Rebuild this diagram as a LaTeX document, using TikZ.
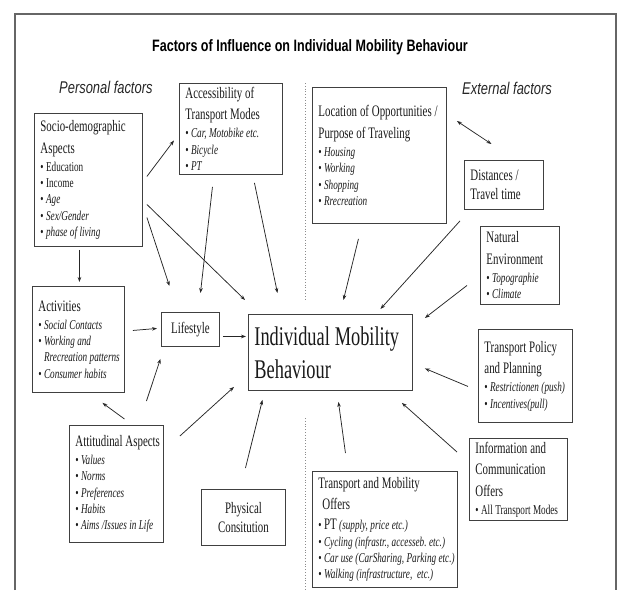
\documentclass[tikz,border=0pt]{standalone}
\usepackage{fontspec}
\setmainfont{Liberation Serif}[FakeStretch=0.68]
\newfontfamily\sansnarrow{Liberation Sans}[FakeStretch=0.76]
\usetikzlibrary{arrows.meta}
\frenchspacing
\newcommand{\hd}{\fontsize{16}{19}\selectfont\spaceskip=0.18em plus 0.06em minus 0.03em\relax}
\newcommand{\itm}{\fontsize{13.5}{16.4}\selectfont\spaceskip=0.18em plus 0.06em minus 0.03em\relax}
\newcommand{\bigf}{\fontsize{27}{33}\selectfont\spaceskip=0.18em plus 0.06em minus 0.03em\relax}
\newcommand{\bl}{\textbullet\ }

\begin{document}
\begin{tikzpicture}[x=1pt, y=-1pt,
  box/.style={draw=black!75, line width=0.9pt, rectangle, anchor=north west, font=\itm,
    inner xsep=6pt, inner ysep=2pt, align=left, text=black!90},
  arr/.style={-{Stealth[length=5pt,width=3.6pt]}, line width=0.75pt, black!85},
  arrboth/.style={{Stealth[length=5pt,width=3.6pt]}-{Stealth[length=5pt,width=3.6pt]}, line width=0.75pt, black!85},
  head/.style={font=\sansnarrow\itshape\fontsize{17}{20}\selectfont, anchor=base west, inner sep=0pt, text=black!85}]
  \useasboundingbox (0,0) rectangle (619,590);
  % Frame and headings
  \draw[black!60, line width=1.2pt] (15,590) -- (15,14) -- (616,14) -- (616,590);
  \node[font=\sansnarrow\bfseries\fontsize{16.5}{20}\selectfont, anchor=base, inner sep=0pt] (title) at (310,51.5) {Factors of Influence on Individual Mobility Behaviour};
  \node[head] (personal) at (59,93) {Personal factors};
  \node[head] (external) at (462,94) {External factors};
  \draw[dotted, black!45, line width=0.8pt] (305,83) -- (305,300) (305,418) -- (305,590);

  % Nodes
  \node[box, minimum width=108, minimum height=133, text width=96] (socio) at (34,113)
    {\hd Socio-demographic\\[2.6pt] Aspects\\[1.6pt] \itm\bl Education\\ \bl Income\\ \bl\textit{Age}\\ \bl\textit{Sex/Gender}\\ \bl\textit{phase of living}};
  \node[box, minimum width=103, minimum height=91, text width=91] (access) at (179,83)
    {\hd Accessibility of\\[2.6pt] Transport Modes\\[1.6pt] \itm\itshape\bl Car, Motobike etc.\\ \bl Bicycle\\ \bl PT};
  \node[box, minimum width=134, minimum height=136, text width=122] (location) at (312,87)
    {\hd \mbox{Location of Opportunities /}\\[2.6pt] Purpose of Traveling\\[1.6pt] \itm\itshape\bl Housing\\ \bl Working\\ \bl Shopping\\ \bl Rrecreation};
  \node[box, font=\hd, minimum width=79, minimum height=49, text width=67] (dist) at (464,160)
    {\hd Distances /\\ Travel time};
  \node[box, minimum width=79, minimum height=78, text width=67] (natural) at (480,226)
    {\hd Natural\\[2.6pt] Environment\\[1.6pt] \itm\itshape\bl Topographie\\ \bl Climate};
  \node[box, minimum width=92, minimum height=106, text width=80] (activ) at (32,286)
    {\hd Activities\\[1.6pt] \itm\itshape\bl Social Contacts\\ \bl Working and\\ \mbox{\phantom{\bl}Rrecreation patterns}\\ \bl Consumer habits};
  \node[box, font=\hd, minimum width=58, minimum height=34, text width=46, align=center] (life) at (161,312)
    {\hd Lifestyle};
  \node[box, font=\bigf, minimum width=164, minimum height=76, text width=152] (central) at (248,314)
    {\bigf\mbox{Individual Mobility}\\ Behaviour};
  \node[box, minimum width=94, minimum height=93, text width=82] (policy) at (478,329)
    {\hd Transport Policy\\[2.6pt] and Planning\\[1.6pt] \itm\itshape\mbox{\bl Restrictionen (push)}\\ \bl Incentives(pull)};
  \node[box, minimum width=98, minimum height=82, text width=86] (info) at (469,438)
    {\hd Information and\\[2.6pt] Communication\\[2.6pt] Offers\\[1.6pt] \itm\mbox{\bl All Transport Modes}};
  \node[box, minimum width=94, minimum height=117, text width=82] (attit) at (69,425)
    {\hd \mbox{Attitudinal Aspects}\\[1.6pt] \itm\itshape\bl Values\\ \bl Norms\\ \bl Preferences\\ \bl Habits\\ \mbox{\bl Aims /Issues in Life}};
  \node[box, font=\hd, minimum width=84, minimum height=56, text width=72, align=center] (phys) at (201,489)
    {\hd Physical\\ Consitution};
  \node[box, minimum width=145, minimum height=116, text width=133] (offers) at (312,471)
    {\hd Transport and Mobility\\[2.6pt] \hspace*{4pt}Offers\\[3.4pt] \itm\bl{\hd PT} \textit{(supply, price etc.)}\\ \itshape\mbox{\bl Cycling (infrastr., accesseb. etc.)}\\ \mbox{\bl Car use (CarSharing, Parking etc.)}\\ \mbox{\bl Walking (infrastructure,\ \ etc.)}};

  % Edges
  \draw[arr] ([xshift=4pt,yshift=3.5pt]socio.east) -- ([xshift=-5pt,yshift=-11.5pt]access.west);
  \draw[arr] ([xshift=-9pt,yshift=-3pt]socio.south) -- ([xshift=1pt,yshift=4pt]activ.north);
  \draw[arr] ([xshift=4pt,yshift=-37.5pt]socio.east) -- ([xshift=-21pt,yshift=26pt]life.north);
  \draw[arr] ([xshift=4pt,yshift=-24.5pt]socio.east) -- ([xshift=-3pt,yshift=14pt]central.north west);
  \draw[arr] ([xshift=-18.5pt,yshift=-12pt]access.south) -- ([xshift=10pt,yshift=19pt]life.north);
  \draw[arr] ([xshift=23.5pt,yshift=-8pt]access.south) -- ([xshift=-53pt,yshift=21pt]central.north);
  \draw[arr] ([xshift=8pt,yshift=9pt]activ.east) -- ([xshift=-4pt,yshift=1pt]life.west);
  \draw[arr] ([xshift=3pt,yshift=-7pt]life.east) -- ([xshift=-2pt,yshift=16pt]central.west);
  \draw[arr] ([xshift=8pt,yshift=6pt]attit.north) -- ([xshift=24pt,yshift=-10pt]activ.south);
  \draw[arr] ([xshift=30pt,yshift=24pt]attit.north) -- ([xshift=-30pt,yshift=-12pt]life.south);
  \draw[arr] ([xshift=16pt,yshift=-11pt]attit.north east) -- ([xshift=-14pt,yshift=4pt]central.south west);
  \draw[arr] ([xshift=2pt,yshift=21pt]phys.north) -- ([xshift=-68pt,yshift=-9pt]central.south);
  \draw[arr] ([xshift=-21pt,yshift=-15pt]location.south) -- ([xshift=13pt,yshift=14pt]central.north);
  \draw[arr] ([xshift=-4pt,yshift=-11pt]dist.south west) -- ([xshift=50pt,yshift=5pt]central.north);
  \draw[arr] ([xshift=-13pt,yshift=-20pt]natural.west) -- ([xshift=12pt,yshift=-4pt]central.north east);
  \draw[arrboth] ([xshift=10pt,yshift=-34pt]location.north east) -- ([xshift=-12.5pt,yshift=16pt]dist.north);
  \draw[arr] ([xshift=-10pt,yshift=-10.5pt]policy.west) -- ([xshift=12pt,yshift=-16pt]central.east);
  \draw[arr] ([xshift=-12pt,yshift=-14pt]info.north west) -- ([xshift=-11pt,yshift=-12pt]central.south east);
  \draw[arr] ([xshift=-39.5pt,yshift=18pt]offers.north) -- ([xshift=8pt,yshift=-11pt]central.south);
\end{tikzpicture}
\end{document}
